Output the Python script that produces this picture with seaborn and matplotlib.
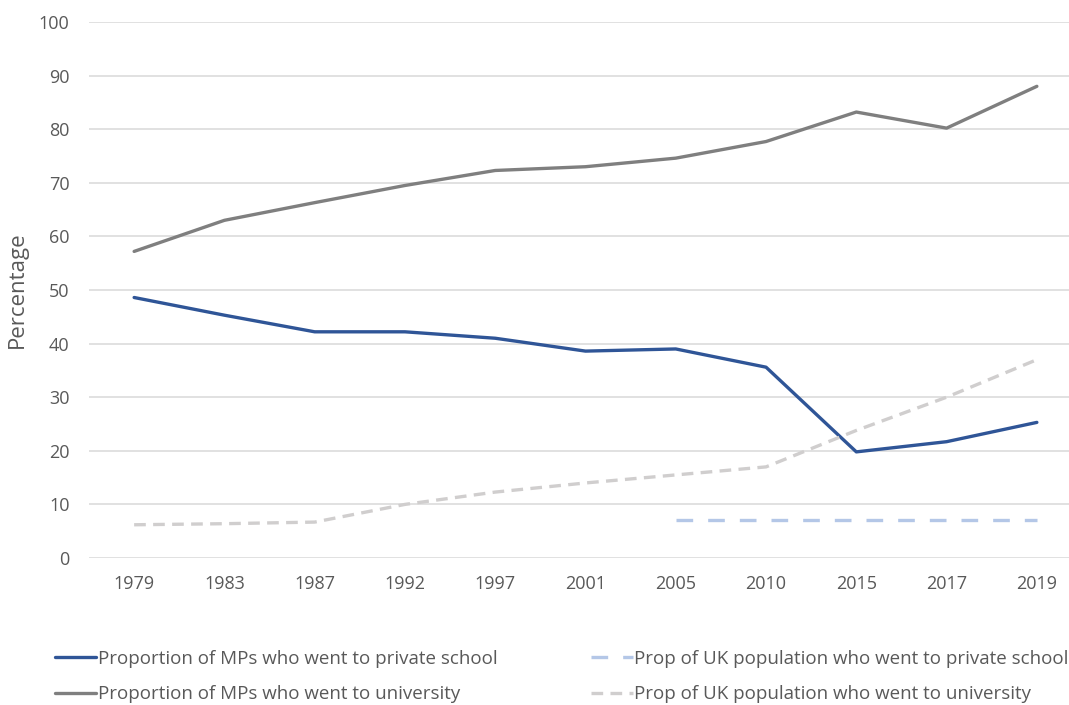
import numpy as np
import pandas as pd
import matplotlib as mpl
mpl.use("Agg")
import matplotlib.pyplot as plt
import seaborn as sns

# values
years = ["1979", "1983", "1987", "1992", "1997", "2001", "2005", "2010", "2015", "2017", "2019"]
mps_private = [48.6, 45.3, 42.2, 42.2, 41.0, 38.6, 39.0, 35.6, 19.8, 21.7, 25.3]
mps_university = [57.2, 63.0, 66.3, 69.5, 72.3, 73.0, 74.6, 77.7, 83.2, 80.2, 88.0]
uk_private_years = ["2005", "2010", "2015", "2017", "2019"]
uk_private = [7.0, 7.0, 7.0, 7.0, 7.0]
uk_university = [6.2, 6.4, 6.7, 10.0, 12.3, 14.0, 15.5, 17.0, 23.8, 30.0, 37.0]

sns.set_theme(style="white")
plt.rcParams["font.family"] = ["Open Sans", "DejaVu Sans"]

fig = plt.figure(figsize=(10.69, 7.05), dpi=100)
ax = fig.add_axes([89 / 1069, 147 / 705, 993 / 1069, 536 / 705])

tick_col = "#595959"
ax.set_axisbelow(True)
ax.yaxis.grid(True, color="#d9d9d9", lw=1.1)

sns.lineplot(x=years, y=mps_private, ax=ax, color="#2f5597", lw=2.4,
             label="Proportion of MPs who went to private school", sort=False)
sns.lineplot(x=years, y=mps_university, ax=ax, color="#7f7f7f", lw=2.4,
             label="Proportion of MPs who went to university", sort=False)
sns.lineplot(x=uk_private_years, y=uk_private, ax=ax, color="#b4c7e7", lw=2.4,
             label="Prop of UK population who went to private school", sort=False)
sns.lineplot(x=years, y=uk_university, ax=ax, color="#d0cece", lw=2.4,
             label="Prop of UK population who went to university", sort=False)

ax.lines[2].set_dashes((5, 4.5))
ax.lines[3].set_dashes((3.5, 2.2))

ax.set_xlim(-0.5, len(years) - 0.5)
ax.set_ylim(0, 100)
ax.set_yticks(np.arange(0, 101, 10))
ax.tick_params(axis="both", colors=tick_col, labelsize=13, length=0)
ax.tick_params(axis="y", pad=14)
ax.tick_params(axis="x", pad=12)
ax.set_xlabel("")
ax.set_ylabel("Percentage", fontsize=16, color=tick_col, labelpad=8)
sns.despine(ax=ax, left=True, bottom=True)

handles, labels = ax.get_legend_handles_labels()
ax.legend(handles, labels, ncol=2, loc="upper left", bbox_to_anchor=(-0.0514, -0.14),
          frameon=False, fontsize=13.5, labelcolor=tick_col, handlelength=2.2,
          handletextpad=0.1, columnspacing=5.0, labelspacing=0.92)

fig.savefig("out.png", dpi=100)
